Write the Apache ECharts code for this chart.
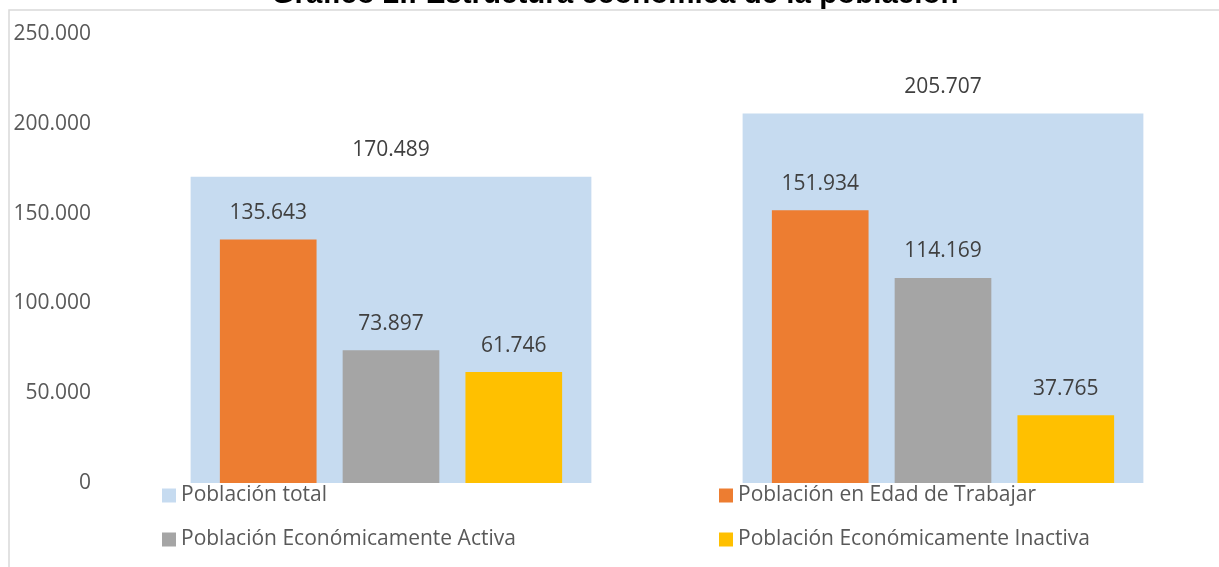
<!DOCTYPE html>
<html lang="es">
<head>
<meta charset="utf-8">
<title>Estructura económica de la población</title>
<script src="https://cdn.jsdelivr.net/npm/echarts@6/dist/echarts.min.js"></script>
<style>
  html, body { margin: 0; padding: 0; background: #ffffff; }
  #chart { width: 1219px; height: 567px; }
</style>
</head>
<body>
<div id="chart"></div>
<script>
// Two groups of population figures
const categories = ['Grupo 1', 'Grupo 2'];
const seriesNames = [
  'Población total',
  'Población en Edad de Trabajar',
  'Población Económicamente Activa',
  'Población Económicamente Inactiva'
];
const poblacionTotal = [170489, 205707];
const edadTrabajar = [135643, 151934];
const economicamenteActiva = [73897, 114169];
const economicamenteInactiva = [61746, 37765];
const yTicks = [0, 50000, 100000, 150000, 200000, 250000];

const colors = ['#C6DBF0', '#ED7D31', '#A5A5A5', '#FFC000'];
const font = '"Open Sans", "Noto Sans", sans-serif';

// Thousands separated by dots: 170489 -> 170.489
function fmt(v) {
  return String(Math.round(v)).replace(/\B(?=(\d{3})+(?!\d))/g, '.');
}

const chart = echarts.init(document.getElementById('chart'), null, { renderer: 'canvas' });

const valueLabel = {
  show: true,
  position: 'top',
  distance: 16,
  fontFamily: font,
  fontSize: 21,
  color: '#404040',
  formatter: p => fmt(p.value)
};

function legendAt(name, left, top) {
  return {
    data: [name],
    left: left,
    top: top,
    padding: 0,
    icon: 'rect',
    itemWidth: 14,
    itemHeight: 14,
    selectedMode: false,
    textStyle: { fontFamily: font, fontSize: 21, lineHeight: 20, color: '#595959' }
  };
}

const option = {
  animation: false,
  color: colors,
  textStyle: { fontFamily: font },
  graphic: [
    {
      type: 'rect',
      silent: true,
      shape: { x: 9, y: 10, width: 1400, height: 800 },
      style: { fill: 'none', stroke: '#D9D9D9', lineWidth: 1.5 }
    },
    {
      type: 'text',
      silent: true,
      x: 615,
      y: 10,
      style: {
        text: 'Gráfico 2.: Estructura económica de la población',
        fontFamily: '"Liberation Sans", Arial, sans-serif',
        fontWeight: 'bold',
        fontSize: 29.5,
        fill: '#000000',
        align: 'center',
        verticalAlign: 'bottom'
      }
    }
  ],
  legend: [
    legendAt(seriesNames[0], 162, 485),
    legendAt(seriesNames[1], 719, 485),
    legendAt(seriesNames[2], 162, 529),
    legendAt(seriesNames[3], 719, 529)
  ],
  grid: { left: 115, top: 34, width: 1108, bottom: 84, containLabel: false },
  xAxis: [
    {
      type: 'category',
      data: categories,
      axisLine: { show: false },
      axisTick: { show: false },
      axisLabel: { show: false }
    },
    {
      type: 'category',
      data: categories,
      show: false
    }
  ],
  yAxis: {
    type: 'value',
    min: yTicks[0],
    max: yTicks[yTicks.length - 1],
    interval: yTicks[1] - yTicks[0],
    axisLine: { show: false },
    axisTick: { show: false },
    splitLine: { show: false },
    axisLabel: {
      fontFamily: font,
      fontSize: 21,
      color: '#595959',
      margin: 24,
      formatter: v => fmt(v)
    }
  },
  series: [
    {
      name: seriesNames[0],
      type: 'bar',
      xAxisIndex: 1,
      z: 1,
      barCategoryGap: '27.4%',
      data: poblacionTotal,
      itemStyle: { color: colors[0] },
      label: valueLabel
    },
    {
      name: seriesNames[1],
      type: 'bar',
      xAxisIndex: 0,
      z: 3,
      barCategoryGap: '38%',
      barGap: '27%',
      data: edadTrabajar,
      itemStyle: { color: colors[1] },
      label: valueLabel
    },
    {
      name: seriesNames[2],
      type: 'bar',
      xAxisIndex: 0,
      z: 3,
      data: economicamenteActiva,
      itemStyle: { color: colors[2] },
      label: valueLabel
    },
    {
      name: seriesNames[3],
      type: 'bar',
      xAxisIndex: 0,
      z: 3,
      data: economicamenteInactiva,
      itemStyle: { color: colors[3] },
      label: valueLabel
    }
  ]
};

chart.setOption(option);
</script>
</body>
</html>
